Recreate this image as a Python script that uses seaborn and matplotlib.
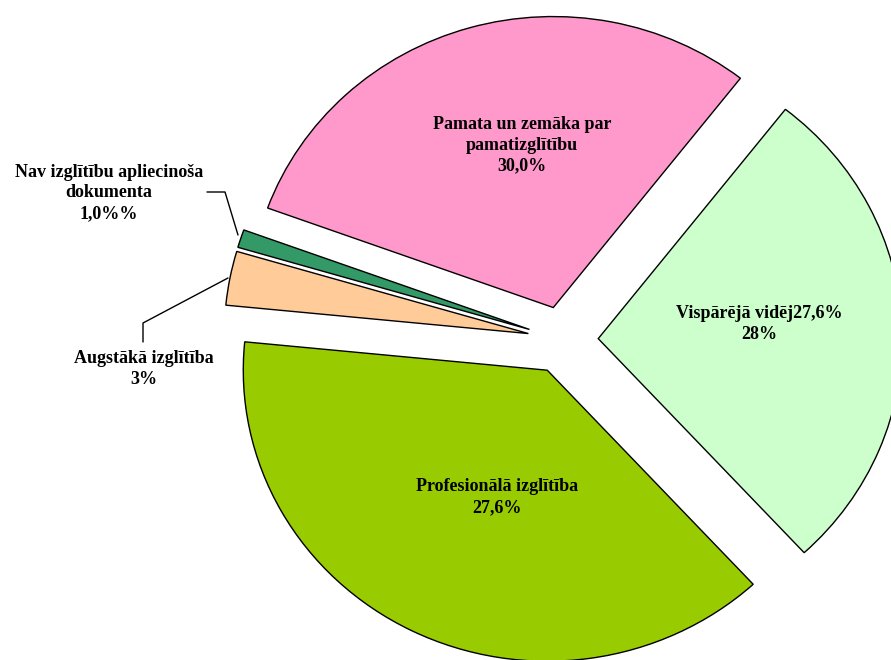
import matplotlib
matplotlib.use("Agg")
import matplotlib.pyplot as plt
import seaborn as sns

# education level shares (%), in drawing order (clockwise from 160 deg)
categories = [
    "Pamata un zemāka par pamatizglītību",
    "Vispārējā vidējā",
    "Profesionālā izglītība",
    "Augstākā izglītība",
    "Nav izglītību apliecinoša dokumenta",
]
shares = [30.0, 27.6, 38.4, 3.0, 1.0]
label_texts = [
    "Pamata un zemāka par\npamatizglītību\n30,0%",
    "Vispārējā vidēj27,6%\n28%",
    "Profesionālā izglītība\n27,6%",
    "Augstākā izglītība\n3%",
    "Nav izglītību apliecinoša\ndokumenta\n1,0%%",
]
colors = ["#FF99CC", "#CCFFCC", "#99CC00", "#FFCC99", "#339966"]

sns.set_style("white")
plt.rcParams["font.family"] = ["Liberation Serif", "DejaVu Serif"]
plt.rcParams["text.color"] = "black"

W, H = 891, 660
# pie centre and radii in pixels (the original is slightly squashed vertically)
CX, CY, RX, RY = 563, 340, 304, 291


def px(x, y):
    # pixel position (top-left origin) -> data units (radius = 1)
    return (x - CX) / RX, (CY - y) / RY


fig = plt.figure(figsize=(W / 100, H / 100), dpi=100)
ax = fig.add_axes([0, 0, 1, 1])

ax.pie(
    shares,
    colors=colors,
    startangle=160,
    counterclock=False,
    explode=[0.116] * len(shares),
    radius=1,
    wedgeprops=dict(edgecolor="black", linewidth=1.0),
)
ax.set_aspect("auto")
ax.set_xlim(px(0, 0)[0], px(W, 0)[0])
ax.set_ylim(px(0, H)[1], px(0, 0)[1])
ax.axis("off")

# label positions (pixels)
label_pos = [(522, 145), (759, 324), (497, 497), (144, 369), (109, 193)]
for txt, (x, y) in zip(label_texts, label_pos):
    ax.text(*px(x, y), txt, ha="center", va="center", fontsize=13,
            fontweight="bold", linespacing=1.3, color="black")

# leader lines for the small slices
for pts in [[(207, 192), (225, 192), (238, 235)],
            [(143, 342), (143, 323), (228, 278)]]:
    xs, ys = zip(*[px(x, y) for x, y in pts])
    ax.plot(xs, ys, color="black", linewidth=1.0)

fig.savefig("out.png", dpi=100)
